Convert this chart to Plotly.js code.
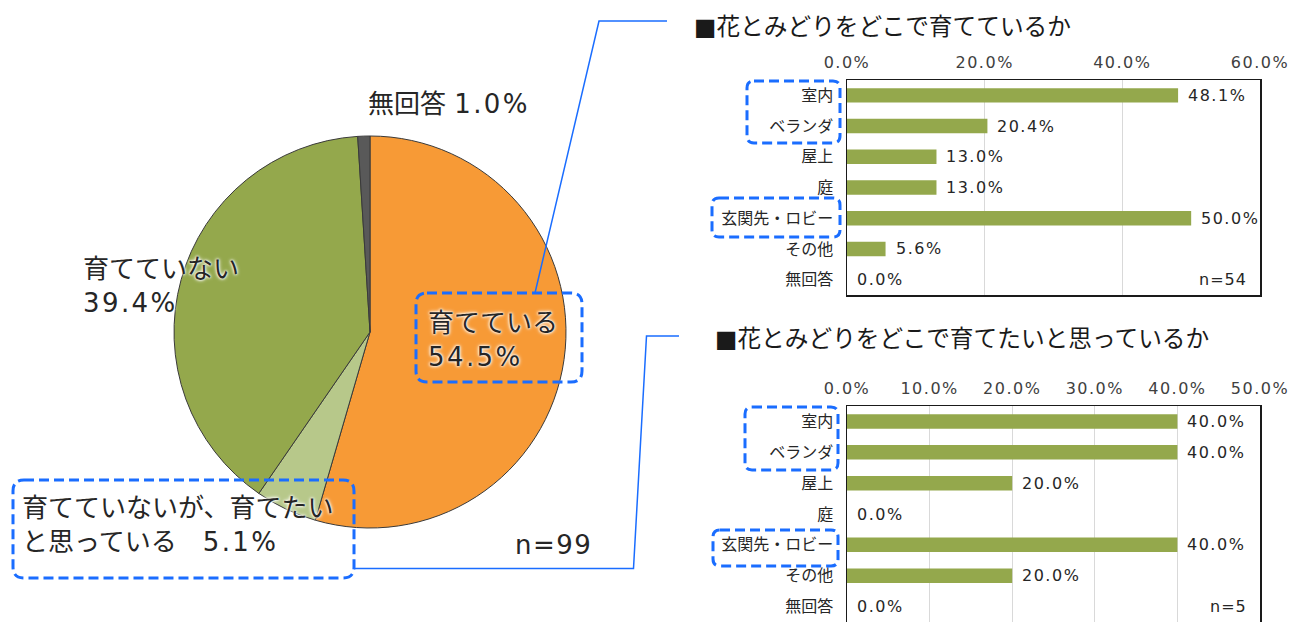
<!DOCTYPE html>
<html>
<head>
<meta charset="utf-8">
<script src="https://cdn.plot.ly/plotly-3.0.1.min.js"></script>
<style>html,body{margin:0;padding:0;background:#fff;}#chart{width:1300px;height:622px;}</style>
</head>
<body>
<div id="chart"></div>
<script>
// ---- data ----
const pieLabels = ['育てている', '育てていないが、育てたいと思っている', '育てていない', '無回答'];
const pieValues = [54.5, 5.1, 39.4, 1.0];
const pieN = 99;

const categories = ['室内', 'ベランダ', '屋上', '庭', '玄関先・ロビー', 'その他', '無回答'];
const grownValues = [48.1, 20.4, 13.0, 13.0, 50.0, 5.6, 0.0];
const grownN = 54;
const grownTicks = [0, 20, 40, 60];
const wantValues = [40.0, 40.0, 20.0, 0.0, 40.0, 20.0, 0.0];
const wantN = 5;
const wantTicks = [0, 10, 20, 30, 40, 50];

const titleGrown = '■花とみどりをどこで育てているか';
const titleWant = '■花とみどりをどこで育てたいと思っているか';

// ---- styles ----
const W = 1300, H = 622;
const FONT = '"DejaVu Sans", "Noto Sans CJK JP", sans-serif';
const pieColors = ['#F79A36', '#B7C88A', '#94A84C', '#595959'];
const barColor = '#94A84C';
const blue = '#1A6DFF';
const px = x => x / W;
const py = y => 1 - y / H;

function fmt(v) { return v.toFixed(1) + '%'; }
function sp(t, ls) { return '<span style="letter-spacing:' + ls + 'px">' + t + '</span>'; }

const traces = [
  {
    type: 'pie', labels: pieLabels, values: pieValues, sort: false,
    direction: 'clockwise', rotation: 0, textinfo: 'none', hoverinfo: 'skip',
    marker: { colors: pieColors, line: { color: '#3a3a3a', width: 1 } },
    domain: { x: [px(370 - 196), px(370 + 196)], y: [py(332 + 196), py(332 - 196)] }
  },
  {
    type: 'bar', orientation: 'h', x: grownValues, y: categories,
    xaxis: 'x', yaxis: 'y', marker: { color: barColor }, hoverinfo: 'skip'
  },
  {
    type: 'bar', orientation: 'h', x: wantValues, y: categories,
    xaxis: 'x2', yaxis: 'y2', marker: { color: barColor }, hoverinfo: 'skip'
  }
];

const glow = '0 0 2px #fff, 0 0 3px #fff, 0 0 4px #fff';
const pieFont = { family: FONT, size: 26, color: '#262626', shadow: glow };
const PLS = 2.4;

const annotations = [];
function addPaper(text, x, y, font, anchor) {
  annotations.push({ xref: 'paper', yref: 'paper', x: px(x), y: py(y), text: text,
    showarrow: false, xanchor: anchor || 'left', yanchor: 'middle', align: 'left', font: font });
}
addPaper(pieLabels[0] + '<br>' + sp(fmt(pieValues[0]), PLS), 426, 340, pieFont);
addPaper(pieLabels[1].slice(0, 12) + '<br>' + pieLabels[1].slice(12) + '\u3000' + sp(fmt(pieValues[1]), PLS), 20, 525, pieFont);
addPaper(pieLabels[2] + '<br>' + sp(fmt(pieValues[2]), PLS), 81, 285.5, pieFont);
addPaper(pieLabels[3] + ' ' + sp(fmt(pieValues[3]), PLS), 366, 104, pieFont);
addPaper(sp('n=' + pieN, 1.5), 513, 545, { family: FONT, size: 26, color: '#262626' });
addPaper(titleGrown, 692, 27, { family: FONT, size: 23.7, color: '#1a1a1a' });
addPaper(titleWant, 713, 339, { family: FONT, size: 23.7, color: '#1a1a1a' });

const valFont = { family: FONT, size: 16, color: '#262626' };
[[grownValues, 'x', 'y'], [wantValues, 'x2', 'y2']].forEach(([vals, xr, yr]) => {
  vals.forEach((v, i) => {
    annotations.push({ xref: xr, yref: yr, x: v, y: categories[i], text: sp(fmt(v), 1.5), showarrow: false,
      xanchor: 'left', yanchor: 'middle', xshift: 8, font: valFont });
  });
});
annotations.push({ xref: 'x domain', yref: 'y', x: 1, y: categories[categories.length - 1], text: sp('n=' + grownN, 1),
  showarrow: false, xanchor: 'right', yanchor: 'middle', xshift: -11, font: valFont });
annotations.push({ xref: 'x2 domain', yref: 'y2', x: 1, y: categories[categories.length - 1], text: sp('n=' + wantN, 1),
  showarrow: false, xanchor: 'right', yanchor: 'middle', xshift: -11, font: valFont });

// rounded dashed boxes and connectors (decoration)
function rr(x0, y0, x1, y1, r) {
  const P = (x, y) => px(x) + ',' + py(y);
  return 'M' + P(x0 + r, y0) + ' L' + P(x1 - r, y0) + ' Q' + P(x1, y0) + ' ' + P(x1, y0 + r) +
    ' L' + P(x1, y1 - r) + ' Q' + P(x1, y1) + ' ' + P(x1 - r, y1) +
    ' L' + P(x0 + r, y1) + ' Q' + P(x0, y1) + ' ' + P(x0, y1 - r) +
    ' L' + P(x0, y0 + r) + ' Q' + P(x0, y0) + ' ' + P(x0 + r, y0) + ' Z';
}
function poly(pts) {
  return pts.map((p, i) => (i ? 'L' : 'M') + px(p[0]) + ',' + py(p[1])).join(' ');
}
const boxLine = { color: blue, width: 3, dash: '10px,5px' };
const shapes = [
  { type: 'path', xref: 'paper', yref: 'paper', path: rr(416, 293, 582, 382, 11), line: boxLine },
  { type: 'path', xref: 'paper', yref: 'paper', path: rr(13, 480, 354, 578, 11), line: boxLine },
  { type: 'path', xref: 'paper', yref: 'paper', path: rr(747, 81, 840, 143, 7), line: boxLine },
  { type: 'path', xref: 'paper', yref: 'paper', path: rr(712, 198, 840, 237, 7), line: boxLine },
  { type: 'path', xref: 'paper', yref: 'paper', path: rr(745, 407, 838, 470, 7), line: boxLine },
  { type: 'path', xref: 'paper', yref: 'paper', path: rr(713, 530, 838, 566, 7), line: boxLine },
  { type: 'path', xref: 'paper', yref: 'paper', path: poly([[535, 293], [599, 21], [667, 21]]), line: { color: blue, width: 1.5 } },
  { type: 'path', xref: 'paper', yref: 'paper', path: poly([[354, 568.5], [633.5, 568.5], [646.5, 336], [679, 336]]), line: { color: blue, width: 1.5 } }
];

const frameColor = '#1a1a1a';
const tickFont = { family: FONT, size: 16, color: '#404040' };
const catFont = { family: FONT, size: 16, color: '#262626' };
function xa(max, ticks, mirror) {
  return { domain: [px(847), px(1260)], range: [0, max], tickmode: 'array', tickvals: ticks,
    ticktext: ticks.map(t => sp(fmt(t), 1.5)), side: 'top',
    showgrid: true, gridcolor: '#D9D9D9', gridwidth: 1, zeroline: false, showline: true, mirror: mirror,
    linecolor: frameColor, linewidth: 1.5, ticks: '', tickfont: tickFont, ticklabelstandoff: 4, fixedrange: true };
}
function ya(domainY, anchor) {
  return { domain: domainY, anchor: anchor, type: 'category', autorange: 'reversed', showline: true, mirror: true,
    linecolor: frameColor, linewidth: 1.5, ticks: '', tickfont: catFont, ticklabelstandoff: 9, showgrid: false,
    zeroline: false, fixedrange: true };
}

const layout = {
  width: W, height: H, margin: { l: 0, r: 0, t: 0, b: 0 }, showlegend: false,
  paper_bgcolor: '#fff', plot_bgcolor: '#fff', font: { family: FONT },
  bargap: 0.53,
  xaxis: Object.assign(xa(60, grownTicks, true), { anchor: 'y' }),
  yaxis: ya([py(295), py(80)], 'x'),
  xaxis2: Object.assign(xa(50, wantTicks, false), { anchor: 'y2' }),
  yaxis2: ya([0, py(406)], 'x2'),
  annotations: annotations, shapes: shapes
};

Plotly.newPlot('chart', traces, layout, { staticPlot: true, displayModeBar: false });
</script>
</body>
</html>
